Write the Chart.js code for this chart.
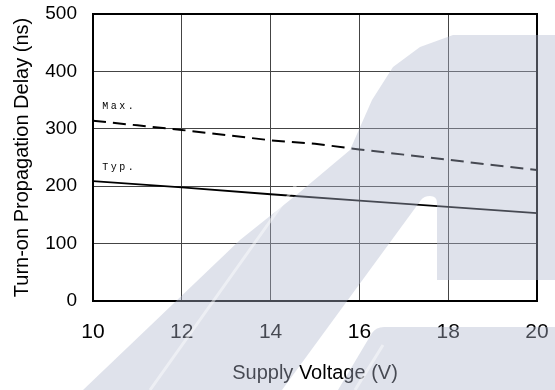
<!DOCTYPE html>
<html>
<head>
<meta charset="utf-8">
<script src="https://cdn.jsdelivr.net/npm/chart.js@4.4.0/dist/chart.umd.min.js"></script>
<style>
    html, body { margin: 0; padding: 0; background: #fff; }
    #wrap { width: 555px; height: 390px; position: relative; }
</style>
</head>
<body>
<div id="wrap"><canvas id="myChart"></canvas></div>
<script>
// values
let voltage = [10, 11, 12, 13, 14, 15, 16, 17, 18, 19, 20];
let maxDelay = [314, 306, 298, 289, 280, 274, 264, 255, 246, 237, 228];
let typVoltage = [10, 12, 14, 16, 18, 20];
let typDelay = [209, 198, 186, 175, 164, 153];
let xTicks = [10, 12, 14, 16, 18, 20];
let yTicks = [0, 100, 200, 300, 400, 500];
let curveNames = ["Max.", "Typ."];

const FONT = '"Liberation Sans", Arial, sans-serif';

// white page behind the chart
const bgPlugin = {
    id: 'bg',
    beforeDraw(chart){
        let ctx = chart.ctx;
        ctx.save();
        ctx.fillStyle = '#fff';
        ctx.fillRect(0, 0, chart.width, chart.height);
        ctx.restore();
    }
};

// black frame round the plot and the small curve names
const framePlugin = {
    id: 'frame',
    afterDatasetsDraw(chart){
        let ctx = chart.ctx;
        let a = chart.chartArea;
        let xs = chart.scales.x, ys = chart.scales.y;
        ctx.save();
        ctx.strokeStyle = '#000';
        ctx.lineWidth = 2;
        ctx.strokeRect(a.left, a.top, a.right - a.left, a.bottom - a.top);

        ctx.fillStyle = '#000';
        ctx.font = '10px "Liberation Mono", monospace';
        ctx.letterSpacing = '2.5px';
        ctx.textBaseline = 'alphabetic';
        ctx.textAlign = 'left';
        ctx.fillText(curveNames[0], xs.getPixelForValue(10.21), ys.getPixelForValue(335));
        ctx.fillText(curveNames[1], xs.getPixelForValue(10.21), ys.getPixelForValue(229));
        ctx.restore();
    }
};

// faint logo watermark laid over the whole picture
const watermarkPlugin = {
    id: 'watermark',
    afterDraw(chart){
        let ctx = chart.ctx;
        ctx.save();
        ctx.fillStyle = 'rgba(176, 183, 206, 0.40)';
        ctx.beginPath();
        // arch with its slanted left leg
        ctx.moveTo(83, 390);
        ctx.lineTo(240, 240);
        ctx.lineTo(300, 192);
        ctx.lineTo(350, 150);
        ctx.lineTo(372, 100);
        ctx.lineTo(393, 67);
        ctx.lineTo(420, 47);
        ctx.lineTo(453, 35);
        ctx.lineTo(555, 35);
        ctx.lineTo(555, 280);
        ctx.lineTo(437, 280);
        ctx.lineTo(437, 203);
        ctx.quadraticCurveTo(437, 196, 430, 196);
        ctx.quadraticCurveTo(424, 196, 421, 200);
        ctx.lineTo(282, 390);
        ctx.closePath();
        // lower right block
        ctx.moveTo(338, 390);
        ctx.lineTo(372, 333);
        ctx.quadraticCurveTo(376, 327, 384, 327);
        ctx.lineTo(555, 327);
        ctx.lineTo(555, 390);
        ctx.closePath();
        ctx.fill();

        // thin light streaks inside the logo
        ctx.strokeStyle = 'rgba(255, 255, 255, 0.45)';
        ctx.lineWidth = 3;
        ctx.beginPath();
        ctx.moveTo(150, 390);
        ctx.lineTo(298, 182);
        ctx.moveTo(383, 345);
        ctx.lineTo(355, 390);
        ctx.stroke();
        ctx.restore();
    }
};

function noAutoPadding(s){
    s.paddingLeft = 0;
    s.paddingRight = 0;
    s.paddingTop = 0;
    s.paddingBottom = 0;
}

window.onload = function(){
    let ctx = document.getElementById('myChart').getContext('2d');
    new Chart(ctx, {
        type: 'line',
        data: {
            datasets: [{
                label: curveNames[0],
                data: voltage.map((v, i) => ({x: v, y: maxDelay[i]})),
                borderColor: '#000',
                borderWidth: 2,
                borderDash: [13, 7],
                pointRadius: 0,
                tension: 0,
                fill: false
            }, {
                label: curveNames[1],
                data: typVoltage.map((v, i) => ({x: v, y: typDelay[i]})),
                borderColor: '#000',
                borderWidth: 1.8,
                pointRadius: 0,
                tension: 0,
                fill: false
            }]
        },
        options: {
            responsive: true,
            maintainAspectRatio: false,
            animation: false,
            layout: { padding: { top: 14, right: 18, left: 0, bottom: 0 } },
            plugins: {
                legend: { display: false },
                tooltip: { enabled: false }
            },
            scales: {
                x: {
                    type: 'linear',
                    min: 10,
                    max: 20,
                    afterBuildTicks: s => { s.ticks = xTicks.map(v => ({value: v})); },
                    afterFit: s => { s.height = 89; noAutoPadding(s); },
                    grid: { color: '#444', lineWidth: 1, drawTicks: false },
                    border: { display: false },
                    ticks: {
                        color: '#000',
                        padding: 19,
                        maxRotation: 0,
                        font: { family: FONT, size: 21 }
                    },
                    title: {
                        display: true,
                        text: 'Supply Voltage (V)',
                        color: '#000',
                        padding: { top: 0, bottom: 5 },
                        font: { family: FONT, size: 20 }
                    }
                },
                y: {
                    min: 0,
                    max: 500,
                    afterBuildTicks: s => { s.ticks = yTicks.map(v => ({value: v})); },
                    afterFit: s => { s.width = 93; noAutoPadding(s); },
                    grid: { color: '#444', lineWidth: 1, drawTicks: false },
                    border: { display: false },
                    ticks: {
                        color: '#000',
                        padding: 16,
                        font: { family: FONT, size: 19 }
                    },
                    title: {
                        display: true,
                        text: 'Turn-on Propagation Delay (ns)',
                        color: '#000',
                        padding: { top: 10, bottom: 0 },
                        font: { family: FONT, size: 20 }
                    }
                }
            }
        },
        plugins: [bgPlugin, framePlugin, watermarkPlugin]
    });
};
</script>
</body>
</html>
